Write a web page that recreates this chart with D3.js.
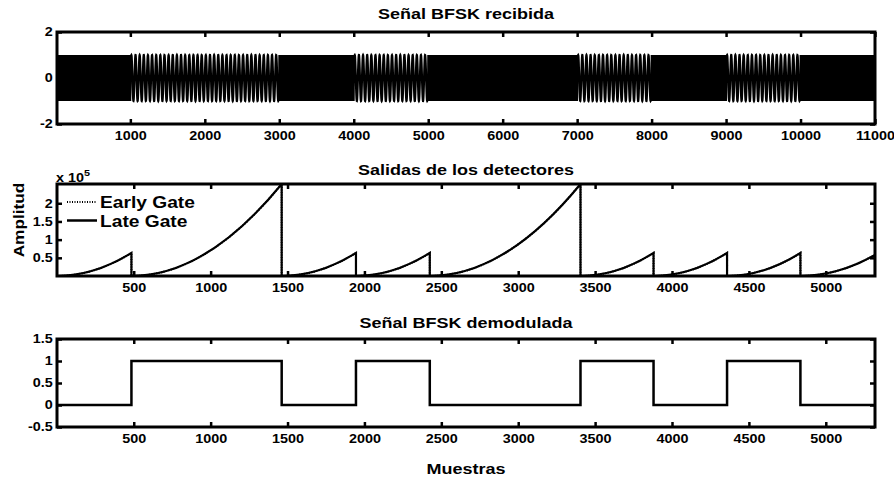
<!DOCTYPE html>
<html><head><meta charset="utf-8">
<script src="https://cdn.jsdelivr.net/npm/d3@7"></script>
<style>
body{margin:0;background:#fff;}
svg{display:block;}
.tk text{font-family:"Liberation Sans",Arial,sans-serif;font-weight:bold;font-size:12px;fill:#000;}
</style></head><body>
<script>
// ---------- DATA ----------
const titles = ["Señal BFSK recibida", "Salidas de los detectores", "Señal BFSK demodulada"];
const xLabel = "Muestras";
const yLabelMid = "Amplitud";
const legendLabels = ["Early Gate", "Late Gate"];

// Panel 1: received BFSK signal, one tone per 1000-sample symbol (cycles per sample)
const symbolLength = 1000;
const symbolFreqs = [0.1, 0.018, 0.018, 0.1, 0.018, 0.1, 0.1, 0.018, 0.1, 0.018, 0.1];
const topXTicks = [1000, 2000, 3000, 4000, 5000, 6000, 7000, 8000, 9000, 10000, 11000];
const topYTicks = [-2, 0, 2];

// Panel 2: detector (integrate-and-dump) outputs, x 10^5
const gateStarts = [0, 485, 1462, 1945, 2425, 3405, 3880, 4358, 4835];
const gateEnds   = [485, 1462, 1945, 2425, 3405, 3880, 4358, 4835, 5320];
const latePeaks  = [0.633, 2.53, 0.633, 0.633, 2.53, 0.633, 0.633, 0.633, 0.58];
const earlyPeaks = [0.633, 2.53, 0.633, 0.633, 2.53, 0.633, 0.633, 0.633, 0.58];
const midXTicks = [500, 1000, 1500, 2000, 2500, 3000, 3500, 4000, 4500, 5000];
const midYTicks = [0.5, 1, 1.5, 2];

// Panel 3: demodulated bits
const demodBounds = [0, 485, 1462, 1945, 2425, 3405, 3880, 4358, 4835, 5320];
const demodLevels = [0, 1, 0, 1, 0, 1, 0, 1, 0, 0];
const botYTicks = [-0.5, 0, 0.5, 1, 1.5];

// ---------- LAYOUT ----------
const W = 894, H = 479;
const L = 57, R = 875;
const panels = [
  {top: 32, bottom: 124},
  {top: 184, bottom: 276},
  {top: 339, bottom: 427}
];
const FONT = '"Liberation Sans", Arial, sans-serif';
const SX = 1.2;
const fmt = d => String(d);

const svg = d3.select("body").append("svg").attr("width", W).attr("height", H);
const defs = svg.append("defs");

function txt(x, y, s, size, anchor, sx = SX, rot = 0) {
  return svg.append("text")
    .attr("transform", `translate(${x},${y}) rotate(${rot}) scale(${sx},1)`)
    .attr("text-anchor", anchor)
    .style("font-family", FONT).style("font-weight", "bold").style("font-size", size + "px")
    .style("fill", "#000")
    .text(s);
}

function frame(i, x, y, xTicks, yTicks) {
  const p = panels[i];
  const id = "clip" + i;
  defs.append("clipPath").attr("id", id).append("rect")
    .attr("x", L).attr("y", p.top).attr("width", R - L).attr("height", p.bottom - p.top);
  const g = svg.append("g");
  const plot = g.append("g").attr("clip-path", `url(#${id})`);
  const styleAxis = (a) => {
    a.select(".domain").remove();
    a.selectAll(".tick line").attr("stroke", "#000").attr("stroke-width", 2.5);
  };
  const ab = g.append("g").attr("class", "tk").attr("transform", `translate(0,${p.bottom})`)
    .call(d3.axisBottom(x).tickValues(xTicks).tickSize(-5).tickPadding(7).tickFormat(fmt));
  styleAxis(ab);
  ab.selectAll("text").attr("transform", `scale(${SX},1)`);
  const at = g.append("g").attr("class", "tk").attr("transform", `translate(0,${p.top})`)
    .call(d3.axisTop(x).tickValues(xTicks).tickSize(-5).tickFormat(""));
  styleAxis(at);
  const al = g.append("g").attr("class", "tk").attr("transform", `translate(${L},0)`)
    .call(d3.axisLeft(y).tickValues(yTicks).tickSize(-5).tickPadding(3.5).tickFormat(fmt));
  styleAxis(al);
  al.selectAll("text").attr("transform", `scale(${SX},1)`);
  const ar = g.append("g").attr("class", "tk").attr("transform", `translate(${R},0)`)
    .call(d3.axisRight(y).tickValues(yTicks).tickSize(-5).tickFormat(""));
  styleAxis(ar);
  return {g, plot};
}

// ---------- PANEL 1 ----------
{
  const p = panels[0];
  const x = d3.scaleLinear().domain([15, 11000]).range([L, R]);
  const y = d3.scaleLinear().domain([-2, 2]).range([p.bottom, p.top]);
  const f = frame(0, x, y, topXTicks, topYTicks);
  const pts = [];
  let phase = 0;
  symbolFreqs.forEach((fr, k) => {
    for (let n = 0; n < symbolLength; n++) {
      pts.push([k * symbolLength + n, Math.sin(phase)]);
      phase += 2 * Math.PI * fr;
    }
  });
  f.plot.append("path").datum(pts)
    .attr("d", d3.line().x(d => x(d[0])).y(d => y(d[1])))
    .attr("fill", "none").attr("stroke", "#000").attr("stroke-width", 2.2);
}

// ---------- PANEL 2 ----------
{
  const p = panels[1];
  const x = d3.scaleLinear().domain([1, 5320]).range([L, R]);
  const y = d3.scaleLinear().domain([0, 2.53]).range([p.bottom, p.top]);
  const f = frame(1, x, y, midXTicks, midYTicks);
  const gatePath = (peaks) => {
    const path = d3.path();
    gateStarts.forEach((s, k) => {
      const e = gateEnds[k];
      path.moveTo(x(s), y(0));
      path.quadraticCurveTo(x((s + e) / 2), y(0), x(e), y(peaks[k]));
      path.lineTo(x(e), y(0));
    });
    return path.toString();
  };
  f.plot.append("path").attr("d", gatePath(earlyPeaks))
    .attr("fill", "none").attr("stroke", "#000").attr("stroke-width", 2).attr("stroke-dasharray", "1,1.5");
  f.plot.append("path").attr("d", gatePath(latePeaks))
    .attr("fill", "none").attr("stroke", "#000").attr("stroke-width", 2.2);
  // legend
  const ly = [202, 220.5];
  svg.append("line").attr("x1", 67).attr("x2", 97).attr("y1", ly[0]).attr("y2", ly[0])
    .attr("stroke", "#000").attr("stroke-width", 2).attr("stroke-dasharray", "1,1.5");
  svg.append("line").attr("x1", 67).attr("x2", 97).attr("y1", ly[1]).attr("y2", ly[1])
    .attr("stroke", "#000").attr("stroke-width", 2.5);
  txt(100, ly[0] + 6, legendLabels[0], 16, "start");
  txt(100, ly[1] + 6, legendLabels[1], 16, "start");
  // exponent
  const ex = txt(56, 182, "x 10", 12, "start");
  ex.append("tspan").attr("dy", -6).style("font-size", "9px").text("5");
  // y label
  txt(24, 220, yLabelMid, 15, "middle", 1.15, -90);
}

// ---------- PANEL 3 ----------
{
  const p = panels[2];
  const x = d3.scaleLinear().domain([1, 5320]).range([L, R]);
  const y = d3.scaleLinear().domain([-0.5, 1.5]).range([p.bottom, p.top]);
  const f = frame(2, x, y, midXTicks, botYTicks);
  const pts = demodBounds.map((b, k) => [b, demodLevels[k]]);
  f.plot.append("path").datum(pts)
    .attr("d", d3.line().x(d => x(d[0])).y(d => y(d[1])).curve(d3.curveStepAfter))
    .attr("fill", "none").attr("stroke", "#000").attr("stroke-width", 2.5);
}

// boxes on top
panels.forEach(p => {
  svg.append("rect").attr("x", L).attr("y", p.top).attr("width", R - L).attr("height", p.bottom - p.top)
    .attr("fill", "none").attr("stroke", "#000").attr("stroke-width", 3);
});

// titles
const titleY = [19, 175, 328];
titles.forEach((t, i) => txt((L + R) / 2, titleY[i], t, 15, "middle"));
txt((L + R) / 2, 474, xLabel, 15, "middle");
</script>
</body></html>
